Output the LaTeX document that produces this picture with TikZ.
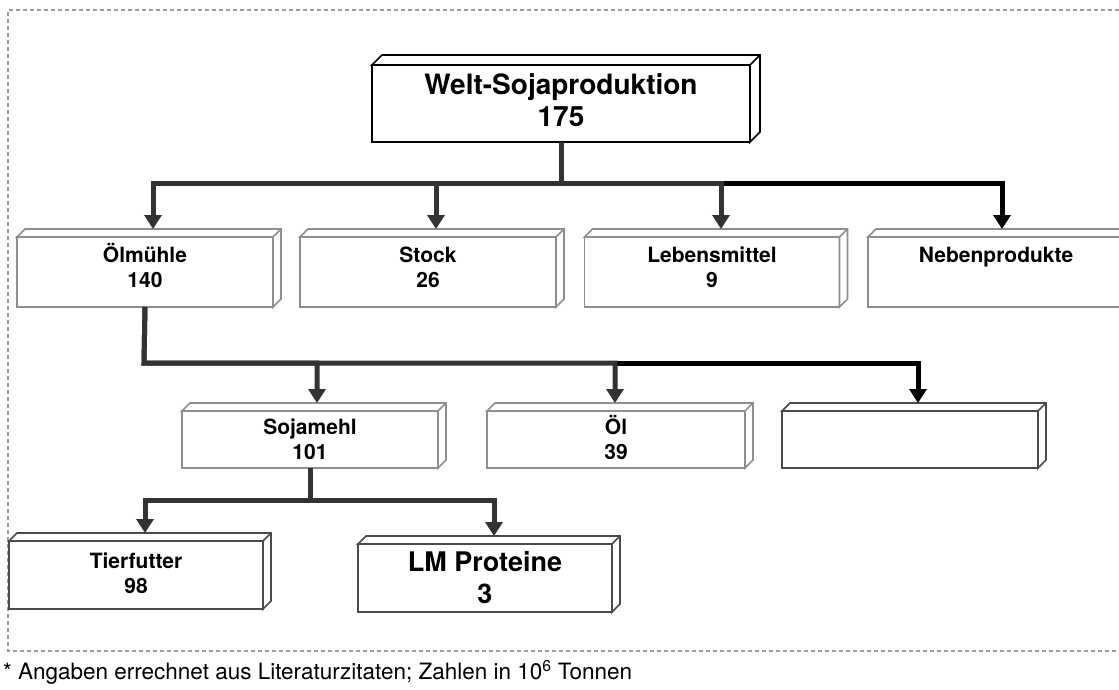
\documentclass[tikz,border=0pt]{standalone}
\usepackage{fontspec}
\setmainfont{TeX Gyre Heros}
\usetikzlibrary{arrows.meta,positioning}
\definecolor{dunkel}{HTML}{333333}
\definecolor{hell}{HTML}{8E8E8E}
\definecolor{mittel}{HTML}{4A4A4A}
\definecolor{strich}{HTML}{9C9C9C}

\begin{document}
\begin{tikzpicture}[x=1pt,y=1pt,
    kiste/.style={draw=hell, line width=1.6pt, fill=white, outer sep=0pt, inner sep=2pt,
      align=center, minimum width=256, minimum height=70, text height=40.5pt,
      font=\bfseries\fontsize{21}{25}\selectfont},
    oben/.style={kiste, text depth=9pt},
    kopf/.style={kiste, draw=black, line width=2pt, minimum width=378, minimum height=77,
      text height=52.5pt, text depth=6pt, font=\bfseries\fontsize{28}{32}\selectfont},
    pfeil/.style={draw=dunkel, line width=5pt, -{Triangle[width=17pt,length=14pt]}},
    rahmen/.style={draw=strich, line width=1.5pt, dash pattern=on 4pt off 3pt},
    fussnote/.style={inner sep=0pt, font=\fontsize{22.5}{27}\selectfont}]
    \useasboundingbox (0,0) rectangle (1119,-690);

    \draw[rahmen] (1119,-10) -| (8,-651) -- (1119,-651);

    \node[kopf] (welt) at (561,-103.5) {Welt-Sojaproduktion\\175};

    \node[oben] (oel) at (145,-272) {Ölmühle\\140};
    \node[oben] (stock) at (428,-272) {Stock\\26};
    \node[oben, minimum width=255] (lebens) at (712,-272) {Lebensmittel\\9};
    \node[oben] (neben) at (996,-272) {Nebenprodukte\\\phantom{0}};

    \node[kiste, minimum height=57] (soja) at (310,-439.5) {Sojamehl\\101};
    \node[kiste, minimum height=57, minimum width=258] (oil) at (616,-439.5) {Öl\\39};
    \node[kiste, draw=mittel, minimum height=57] (leer) at (910,-439.5) {};

    \node[kiste, draw=mittel, minimum width=254, minimum height=68, text depth=4pt] (tier) at (136,-575) {Tierfutter\\98};
    \node[kiste, draw=mittel, minimum width=254, minimum height=68, text height=51.7pt,
      font=\bfseries\fontsize{27}{32}\selectfont] (lm) at (485,-578) {LM Proteine\\3};

    \foreach \n/\d/\f in {welt/10/black, oel/8/hell, stock/8/hell, lebens/8/hell, neben/8/hell,
        soja/8/hell, oil/8/hell, leer/8/mittel, tier/8/mittel, lm/8/mittel} {
      \draw[line width=1.6pt, draw=\f, fill=white] (\n.north west) -- ++(\d,\d)
        -- ([shift={(\d,\d)}]\n.north east) -- ([shift={(\d,\d)}]\n.south east)
        -- (\n.south east) -- (\n.north east) -- cycle;
      \draw[line width=1.6pt, draw=\f] (\n.north east) -- ++(\d,\d);
    }

    \coordinate (k1) at (561,-183);
    \coordinate (k2) at (144,-363);
    \coordinate (k3) at (310,-500);

    \draw[pfeil, draw=black] ([xshift=9pt]lebens.north |- k1) -| ([shift={(6,8)}]neben.north);
    \draw[pfeil] (welt.south) -- (k1) -| ([shift={(8,8)}]oel.north);
    \draw[pfeil] (welt.south) -- (k1) -| ([shift={(8,8)}]stock.north);
    \draw[pfeil] (welt.south) -- (k1) -| ([shift={(9,8)}]lebens.north);

    \draw[pfeil, draw=black] ([xshift=-1pt]oil.north |- k2) -| ([shift={(8,8)}]leer.north);
    \draw[pfeil] (oel.south) -- (k2) -| ([shift={(7,8)}]soja.north);
    \draw[pfeil] (oel.south) -- (k2) -| ([shift={(-1,8)}]oil.north);

    \draw[pfeil] (soja.south) -- (k3) -| ([shift={(9,8)}]tier.north);
    \draw[pfeil] (soja.south) -- (k3) -| ([shift={(9,8)}]lm.north);

    \node[fussnote, anchor=base west] (fuss) at (3,-679)
      {* Angaben errechnet aus Literaturzitaten; Zahlen in 10\textsuperscript{6} Tonnen};
\end{tikzpicture}
\end{document}
